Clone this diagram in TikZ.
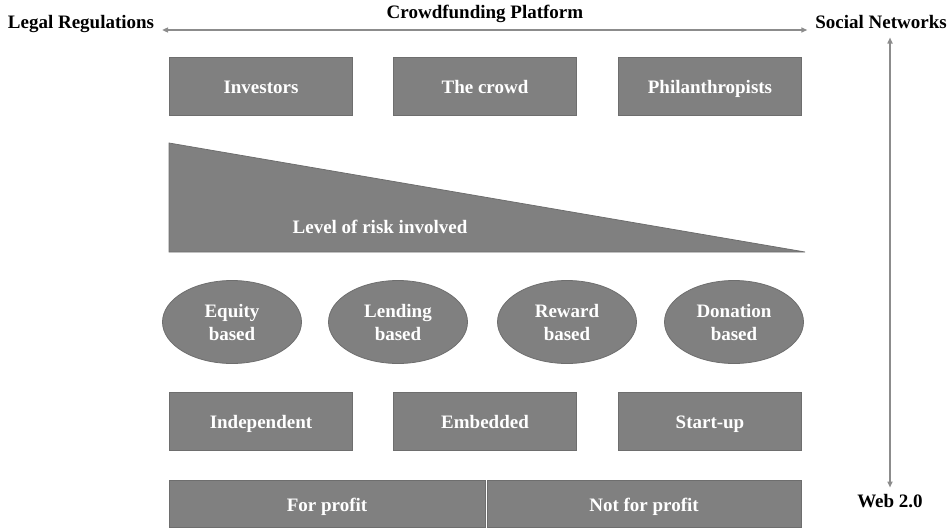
\documentclass[tikz,border=0pt]{standalone}
\usepackage{fontspec}
\setmainfont{Liberation Serif}
\usetikzlibrary{shapes.geometric}
\usetikzlibrary{arrows.meta}

\definecolor{boxgray}{HTML}{808080}
\definecolor{edgegray}{HTML}{6E6E6E}
\definecolor{arrowgray}{HTML}{8C8C8C}

\begin{document}
\begin{tikzpicture}[x=1pt,y=-1pt,inner sep=0pt,outer sep=0pt,
font=\fontsize{19}{23}\selectfont\bfseries,
typebox/.style={draw=edgegray,fill=boxgray,rectangle,text=white,minimum width=183pt,minimum height=58pt,text height=15pt,text depth=1pt,line width=.8pt},
modelblob/.style={draw=edgegray,fill=boxgray,ellipse,text=white,minimum width=139pt,minimum height=83pt,align=center,line width=.8pt},
axislabel/.style={text=black,text height=13pt,text depth=4pt},
axisarrow/.style={arrowgray,line width=1.6pt,{Triangle[length=6pt,width=5pt]}-{Triangle[length=6pt,width=5pt]}}]
\useasboundingbox (0,0) rectangle (951,530);

% platform axis
\draw (81,24) node[axislabel] (legal) {Legal Regulations};
\draw (881,24) node[axislabel] (social) {Social Networks};
\draw (485,14) node[axislabel] (platform) {Crowdfunding Platform};
\draw (890,503) node[axislabel] (web) {Web 2.0};
\draw[axisarrow] ([xshift=8pt,yshift=-6pt]legal.east) -- ([xshift=-8pt,yshift=-6pt]social.west);
\draw[axisarrow] ([xshift=9pt,yshift=-5pt]social.south) -- ([yshift=7pt]web.north);

% who funds
\draw (261,86) node[typebox] (investors) {Investors};
\draw (485,86) node[typebox] (crowd) {The crowd};
\draw (710,86) node[typebox] (philan) {Philanthropists};

% risk wedge
\fill[boxgray,draw=edgegray,line width=.8pt] (169,143) -- (805,252) -- (169,252) -- cycle;
\draw (380,227) node[text=white] (risk) {Level of risk involved};

% funding models
\draw (232,322) node[modelblob] (equity) {Equity\\based};
\draw (398,322) node[modelblob] (lending) {Lending\\based};
\draw (567,322) node[modelblob] (reward) {Reward\\based};
\draw (734,322) node[modelblob] (donation) {Donation\\based};

% platform kinds
\draw (261,421) node[typebox] (indep) {Independent};
\draw (485,421) node[typebox] (embed) {Embedded};
\draw (710,421) node[typebox] (startup) {Start-up};

\draw (327,504) node[typebox,minimum width=316pt,minimum height=47pt] (profit) {For profit};
\draw (644,504) node[typebox,minimum width=314pt,minimum height=47pt] (nonprofit) {Not for profit};
\end{tikzpicture}
\end{document}
